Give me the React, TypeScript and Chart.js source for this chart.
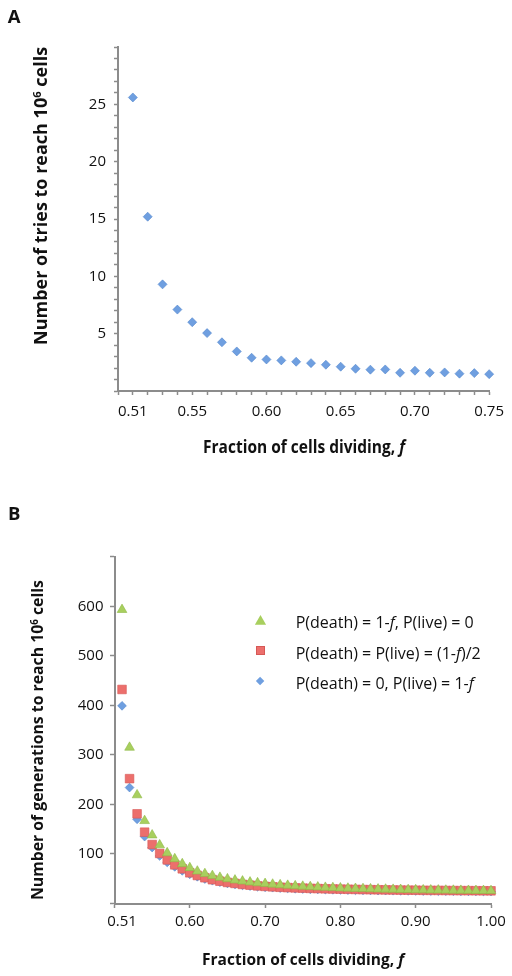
import React, { useEffect, useRef } from 'react';
import { Chart, registerables } from 'chart.js';

Chart.register(...registerables);

const FONT = '"Open Sans", "Noto Sans", "DejaVu Sans", sans-serif';
const AXIS_GRAY = '#8c8c8c';
const TEXT = '#111';

// ---------- Panel A data ----------
const A_FRACTION = [
  0.51, 0.52, 0.53, 0.54, 0.55, 0.56, 0.57, 0.58, 0.59, 0.6,
  0.61, 0.62, 0.63, 0.64, 0.65, 0.66, 0.67, 0.68, 0.69, 0.7,
  0.71, 0.72, 0.73, 0.74, 0.75,
];
const A_TRIES = [
  25.6, 15.2, 9.3, 7.1, 6.0, 5.05, 4.25, 3.45, 2.9, 2.75,
  2.67, 2.55, 2.43, 2.29, 2.12, 1.94, 1.86, 1.88, 1.59, 1.77,
  1.59, 1.62, 1.51, 1.56, 1.47,
];
const A_X_TICK_VALUES = [0.51, 0.55, 0.6, 0.65, 0.7, 0.75];
const A_X_TICK_LABELS = ['0.51', '0.55', '0.60', '0.65', '0.70', '0.75'];
const A_Y_TICK_VALUES = [5, 10, 15, 20, 25];
const A_Y_TICK_LABELS = ['5', '10', '15', '20', '25'];

// ---------- Panel B data ----------
const B_FRACTION = [
  0.51, 0.52, 0.53, 0.54, 0.55, 0.56, 0.57, 0.58, 0.59, 0.6,
  0.61, 0.62, 0.63, 0.64, 0.65, 0.66, 0.67, 0.68, 0.69, 0.7,
  0.71, 0.72, 0.73, 0.74, 0.75, 0.76, 0.77, 0.78, 0.79, 0.8,
  0.81, 0.82, 0.83, 0.84, 0.85, 0.86, 0.87, 0.88, 0.89, 0.9,
  0.91, 0.92, 0.93, 0.94, 0.95, 0.96, 0.97, 0.98, 0.99, 1.0,
];
// P(death) = 1-f, P(live) = 0  (green triangles)
const B_DEATH_ONLY = [
  593, 315, 219, 167, 138, 118, 102, 90, 80, 72,
  65, 60, 56, 52.5, 49.5, 47, 45, 43, 41.5, 40,
  38.7, 37.5, 36.4, 35.4, 34.5, 33.7, 33, 32.3, 31.7, 31.1,
  30.6, 30.1, 29.7, 29.3, 28.9, 28.6, 28.3, 28, 27.7, 27.4,
  27.2, 27, 26.8, 26.6, 26.4, 26.2, 26.1, 25.9, 25.8, 25.7,
];
// P(death) = P(live) = (1-f)/2  (red squares)
const B_SPLIT = [
  432, 252, 181, 144, 119, 101, 88, 78, 70, 62,
  56.5, 52, 48, 45, 42.5, 40.5, 38.5, 37, 35.5, 34.5,
  33.6, 32.8, 32.1, 31.5, 31, 30.5, 30.1, 29.7, 29.3, 29,
  28.7, 28.4, 28.1, 27.9, 27.7, 27.5, 27.3, 27.1, 26.9, 26.8,
  26.6, 26.5, 26.4, 26.3, 26.1, 26, 25.9, 25.8, 25.7, 25.6,
];
// P(death) = 0, P(live) = 1-f  (blue diamonds)
const B_LIVE_ONLY = [
  399, 234, 170, 135, 113, 96, 83, 74, 66, 59,
  54, 49.5, 46, 43, 40.5, 38.5, 36.7, 35.2, 33.9, 32.8,
  31.9, 31.1, 30.4, 29.8, 29.3, 28.8, 28.4, 28, 27.7, 27.4,
  27.1, 26.8, 26.6, 26.4, 26.2, 26, 25.8, 25.6, 25.5, 25.3,
  25.2, 25.1, 25, 24.9, 24.8, 24.7, 24.6, 24.5, 24.4, 24.3,
];
const B_SERIES_LABELS = [
  'P(death) = 1-f, P(live) = 0',
  'P(death) = P(live) = (1-f)/2',
  'P(death) = 0, P(live) = 1-f',
];
const B_X_TICK_VALUES = [0.51, 0.6, 0.7, 0.8, 0.9, 1.0];
const B_X_TICK_LABELS = ['0.51', '0.60', '0.70', '0.80', '0.90', '1.00'];
const B_Y_TICK_VALUES = [100, 200, 300, 400, 500, 600];
const B_Y_TICK_LABELS = ['100', '200', '300', '400', '500', '600'];

// ---------- styles ----------
const BLUE = '#6f9fe0';
const BLUE_EDGE = '#5386cc';
const RED = '#ec6f6c';
const RED_EDGE = '#d65855';
const GREEN = '#a8cf5e';
const GREEN_EDGE = '#8fb847';

const same = (a: number, b: number) => Math.round(a * 1000) === Math.round(b * 1000);
const labeler = (values: number[], labels: string[]) => (v: any) => {
  const i = values.findIndex((t) => same(t, Number(v)));
  return i >= 0 ? labels[i] : '';
};

function axisBase(tickLength: number, padding: number) {
  return {
    grid: {
      display: true,
      drawOnChartArea: false,
      drawTicks: true,
      tickLength,
      tickWidth: 1.5,
      tickColor: AXIS_GRAY,
    },
    border: { display: true, color: AXIS_GRAY, width: 2 },
    ticks: {
      autoSkip: false,
      maxRotation: 0,
      minRotation: 0,
      padding,
      color: TEXT,
      font: { family: FONT, size: 15 },
    },
  };
}

function configA(): any {
  const xb: any = axisBase(4, 8);
  const yb: any = axisBase(4, 8);
  return {
    type: 'scatter',
    data: {
      datasets: [
        {
          label: 'Number of tries',
          data: A_FRACTION.map((f, i) => ({ x: f, y: A_TRIES[i] })),
          pointStyle: 'rectRot',
          pointRadius: 4.5,
          backgroundColor: BLUE,
          borderColor: BLUE_EDGE,
          borderWidth: 0.6,
          showLine: false,
          clip: false,
        },
      ],
    },
    options: {
      responsive: false,
      animation: false,
      events: [],
      layout: { padding: { left: 0, right: 22, top: 47, bottom: 0 } },
      plugins: { legend: { display: false }, tooltip: { enabled: false }, title: { display: false } },
      scales: {
        x: {
          type: 'linear',
          min: 0.5,
          max: 0.75,
          ...xb,
          afterBuildTicks: (s: any) => {
            const t: any[] = [];
            for (let k = 50; k <= 75; k++) t.push({ value: k / 100 });
            s.ticks = t;
          },
          afterFit: (s: any) => {
            s.height = 89;
          },
          ticks: { ...xb.ticks, callback: labeler(A_X_TICK_VALUES, A_X_TICK_LABELS) },
        },
        y: {
          type: 'linear',
          min: 0,
          max: 30,
          ...yb,
          afterBuildTicks: (s: any) => {
            const t: any[] = [];
            for (let k = 0; k <= 30; k++) t.push({ value: k });
            s.ticks = t;
          },
          afterFit: (s: any) => {
            s.width = 118;
          },
          ticks: { ...yb.ticks, callback: labeler(A_Y_TICK_VALUES, A_Y_TICK_LABELS) },
        },
      },
    },
  };
}

function configB(): any {
  const xb: any = axisBase(4.5, 4.5);
  const yb: any = axisBase(4.5, 6.5);
  const mk = (label: string, values: number[], style: string, r: number, bg: string, edge: string) => ({
    label,
    data: B_FRACTION.map((f, i) => ({ x: f, y: values[i] })),
    pointStyle: style,
    pointRadius: r,
    backgroundColor: bg,
    borderColor: edge,
    borderWidth: 0.6,
    showLine: false,
    clip: false,
  });
  return {
    type: 'scatter',
    data: {
      datasets: [
        mk(B_SERIES_LABELS[0], B_DEATH_ONLY, 'triangle', 5.6, GREEN, GREEN_EDGE),
        mk(B_SERIES_LABELS[1], B_SPLIT, 'rect', 6.1, RED, RED_EDGE),
        mk(B_SERIES_LABELS[2], B_LIVE_ONLY, 'rectRot', 4.4, BLUE, BLUE_EDGE),
      ],
    },
    options: {
      responsive: false,
      animation: false,
      events: [],
      layout: { padding: { left: 0, right: 21, top: 66.7, bottom: 0 } },
      plugins: { legend: { display: false }, tooltip: { enabled: false }, title: { display: false } },
      scales: {
        x: {
          type: 'linear',
          min: 0.5,
          max: 1.0,
          ...xb,
          grid: {
            ...xb.grid,
            tickColor: (ctx: any) =>
              ctx.tick && same(ctx.tick.value, 0.51) ? 'rgba(0,0,0,0)' : AXIS_GRAY,
          },
          afterBuildTicks: (s: any) => {
            s.ticks = [0.5, ...B_X_TICK_VALUES].map((v) => ({ value: v }));
          },
          afterFit: (s: any) => {
            s.height = 72.5;
          },
          ticks: { ...xb.ticks, callback: labeler(B_X_TICK_VALUES, B_X_TICK_LABELS) },
        },
        y: {
          type: 'linear',
          min: 0,
          max: 700,
          ...yb,
          afterBuildTicks: (s: any) => {
            const t: any[] = [];
            for (let k = 0; k <= 700; k += 100) t.push({ value: k });
            s.ticks = t;
          },
          afterFit: (s: any) => {
            s.width = 114.5;
          },
          ticks: { ...yb.ticks, callback: labeler(B_Y_TICK_VALUES, B_Y_TICK_LABELS) },
        },
      },
    },
  };
}

function Italicized({ text }: { text: string }) {
  const parts = text.split('f');
  const out: any[] = [];
  parts.forEach((p, i) => {
    out.push(<span key={'p' + i}>{p}</span>);
    if (i < parts.length - 1) out.push(<i key={'f' + i}>f</i>);
  });
  return <>{out}</>;
}

const centered = (x: number, y: number, extra: any = {}): any => ({
  position: 'absolute',
  left: x,
  top: y,
  transform: 'translate(-50%, -50%)',
  whiteSpace: 'nowrap',
  lineHeight: 1,
  color: TEXT,
  ...extra,
});

const rotatedTitle = (left: number, startY: number, size: number): any => ({
  position: 'absolute',
  left,
  top: startY,
  transformOrigin: '0 0',
  transform: 'rotate(-90deg)',
  whiteSpace: 'nowrap',
  fontWeight: 700,
  fontSize: size,
  lineHeight: size + 'px',
  color: TEXT,
});

const Sup = ({ children }: any) => (
  <span style={{ fontSize: '0.62em', position: 'relative', top: '-0.55em' }}>{children}</span>
);

function Marker({ kind, x, y }: { kind: string; x: number; y: number }) {
  if (kind === 'triangle') {
    return (
      <div
        style={{
          position: 'absolute',
          left: x - 5.6,
          top: y - 5,
          width: 11.2,
          height: 9.7,
          background: GREEN,
          clipPath: 'polygon(50% 0, 100% 100%, 0 100%)',
        }}
      />
    );
  }
  if (kind === 'rect') {
    return (
      <div
        style={{
          position: 'absolute',
          left: x - 4.3,
          top: y - 4.3,
          width: 8.6,
          height: 8.6,
          background: RED,
          boxSizing: 'border-box',
          border: '0.6px solid ' + RED_EDGE,
        }}
      />
    );
  }
  return (
    <div
      style={{
        position: 'absolute',
        left: x - 3.1,
        top: y - 3.1,
        width: 6.2,
        height: 6.2,
        background: BLUE,
        transform: 'rotate(45deg)',
      }}
    />
  );
}

const LEGEND_KINDS = ['triangle', 'rect', 'rectRot'];
const LEGEND_ROWS_Y = [620, 650.5, 681];

export default function App() {
  const refA = useRef<HTMLCanvasElement>(null);
  const refB = useRef<HTMLCanvasElement>(null);

  useEffect(() => {
    const a = new Chart(refA.current as HTMLCanvasElement, configA());
    const b = new Chart(refB.current as HTMLCanvasElement, configB());
    return () => {
      a.destroy();
      b.destroy();
    };
  }, []);

  return (
    <div
      style={{
        position: 'absolute',
        left: 0,
        top: 0,
        width: 512,
        height: 976,
        background: '#fff',
        fontFamily: FONT,
        overflow: 'hidden',
      }}
    >
      <canvas ref={refA} width={512} height={480} style={{ position: 'absolute', left: 0, top: 0 }} />
      <canvas ref={refB} width={512} height={486} style={{ position: 'absolute', left: 0, top: 490 }} />

      {/* Panel letters */}
      <div style={centered(14.2, 16, { fontWeight: 700, fontSize: 18.5 })}>A</div>
      <div style={centered(14.2, 513, { fontWeight: 700, fontSize: 18.5 })}>B</div>

      {/* Panel A titles */}
      <div style={rotatedTitle(30.7, 345, 18)}>
        Number of tries to reach 10<Sup>6</Sup> cells
      </div>
      <div style={centered(304, 447, { fontWeight: 700, fontSize: 15.5, transform: 'translate(-50%, -50%) scaleY(1.15)' })}>
        Fraction of cells dividing, <i>f</i>
      </div>

      {/* Panel B titles */}
      <div style={rotatedTitle(29.5, 900, 15.8)}>
        Number of generations to reach 10<Sup>6</Sup> cells
      </div>
      <div style={centered(303, 960, { fontWeight: 700, fontSize: 15.5 })}>
        Fraction of cells dividing, <i>f</i>
      </div>

      {/* Panel B legend */}
      {B_SERIES_LABELS.map((lab, i) => (
        <React.Fragment key={i}>
          <Marker kind={LEGEND_KINDS[i]} x={260.5} y={LEGEND_ROWS_Y[i]} />
          <div
            style={{
              position: 'absolute',
              left: 295.7,
              top: LEGEND_ROWS_Y[i] + 2,
              transform: 'translateY(-50%)',
              whiteSpace: 'nowrap',
              lineHeight: 1,
              fontSize: 16,
              color: TEXT,
            }}
          >
            <Italicized text={lab} />
          </div>
        </React.Fragment>
      ))}
    </div>
  );
}
